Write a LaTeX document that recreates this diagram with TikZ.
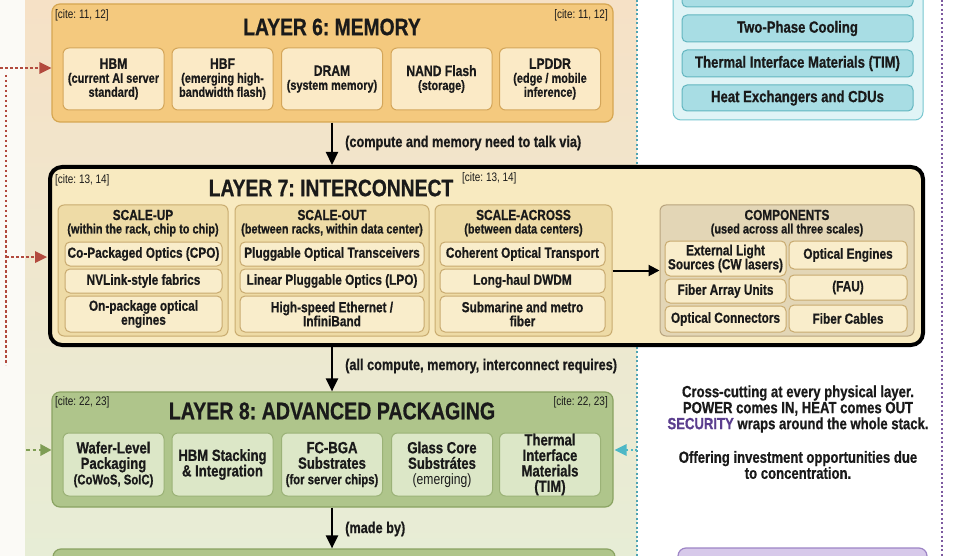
\documentclass[tikz,border=0pt]{standalone}
\usepackage{fontspec}
\setmainfont{Liberation Sans}[FakeStretch=0.81, BoldFeatures={FakeBold=0.7}]
\usetikzlibrary{arrows.meta}
\definecolor{ink}{HTML}{1A1A1A}
\definecolor{bgtop}{HTML}{F6E1C6}
\definecolor{bgmid}{HTML}{FAF2DA}
\definecolor{bgbot}{HTML}{E7EDD6}
\definecolor{strip}{HTML}{FBFAF6}
\definecolor{l6f}{HTML}{F4C97E}
\definecolor{l6b}{HTML}{D6A651}
\definecolor{memf}{HTML}{FBEAC6}
\definecolor{memb}{HTML}{D4A65A}
\definecolor{l7f}{HTML}{F8EAC0}
\definecolor{grpf}{HTML}{EEDBA6}
\definecolor{grpb}{HTML}{C9AC70}
\definecolor{itf}{HTML}{F9EDCB}
\definecolor{itb}{HTML}{C8AA6F}
\definecolor{compf}{HTML}{E3D6B6}
\definecolor{compb}{HTML}{B8A47E}
\definecolor{l8f}{HTML}{AFC58B}
\definecolor{l8b}{HTML}{8AA362}
\definecolor{l8it}{HTML}{DCE7C7}
\definecolor{l8itb}{HTML}{9BB277}
\definecolor{cyf}{HTML}{E0F4F6}
\definecolor{cyb}{HTML}{76C6CF}
\definecolor{cyit}{HTML}{A8DDE4}
\definecolor{cyitb}{HTML}{62B6C0}
\definecolor{purf}{HTML}{D7C9EA}
\definecolor{purb}{HTML}{9E85C6}
\definecolor{reddot}{HTML}{B24A3E}
\definecolor{greendash}{HTML}{7F9D55}
\definecolor{cyandot}{HTML}{4FA3B3}
\definecolor{cyanarr}{HTML}{4DB8C6}
\definecolor{purdot}{HTML}{7D5AA0}
\definecolor{secur}{HTML}{5B3E8E}
\newcommand{\fsz}[2]{\fontsize{#1}{#2}\selectfont}
\begin{document}
\frenchspacing
\begin{tikzpicture}[x=1pt,y=-1pt,
  layerbox/.style={line width=1.2pt, rounded corners=8pt, inner sep=0pt},
  membox/.style={draw=memb, fill=memf, line width=1pt, rounded corners=6pt,
    minimum width=101pt, minimum height=62pt, align=center, inner sep=0pt,
    font=\fsz{13.5}{14}\bfseries, text=ink},
  pkgbox/.style={draw=l8itb, fill=l8it, line width=1pt, rounded corners=6pt,
    minimum width=101pt, minimum height=63pt, align=center, inner sep=0pt,
    font=\fsz{16.2}{15.5}\bfseries, text=ink},
  ltitle/.style={font=\fsz{23.8}{25}\bfseries, text=ink, inner sep=0pt},
  citetxt/.style={font=\fsz{12.3}{13}, text=ink, inner sep=0pt},
  grpbox/.style={draw=grpb, fill=grpf, line width=1pt, rounded corners=6pt, inner sep=0pt},
  compbox/.style={draw=compb, fill=compf, line width=1pt, rounded corners=6pt, inner sep=0pt},
  itembox/.style={draw=itb, fill=itf, line width=1pt, rounded corners=5pt, inner sep=0pt,
    align=center, font=\fsz{14.6}{14}\bfseries, text=ink},
  hdr/.style={font=\fsz{14.6}{14}\bfseries, text=ink, inner sep=0pt},
  subhdr/.style={font=\fsz{13.5}{14}\bfseries, text=ink, inner sep=0pt},
  cyitem/.style={draw=cyitb, fill=cyit, line width=1pt, rounded corners=5pt, inner sep=0pt,
    minimum width=231pt, align=center, font=\fsz{16.2}{16}\bfseries, text=ink},
  flowlab/.style={font=\fsz{15.7}{16}\bfseries, text=ink, anchor=west, inner sep=0pt},
  sidetxt/.style={font=\fsz{16.2}{16}\bfseries, text=ink, align=center, inner sep=0pt},
  flowarr/.style={draw=black, line width=2.2pt, -{Triangle[length=13pt,width=12pt]}},
  redline/.style={draw=reddot, line width=2pt, dash pattern=on 2.5pt off 2.5pt},
]
\useasboundingbox (0,0) rectangle (974,556);
\clip (0,0) rectangle (974,556);

% backgrounds
\fill[white] (0,0) rectangle (974,556);
\fill[strip] (0,0) rectangle (25,556);
\shade[top color=bgtop, middle color=bgmid, bottom color=bgbot] (25,0) rectangle (637,556);

% dotted guide lines
\draw[cyandot, line width=2pt, dash pattern=on 2pt off 2.5pt] (637,0) -- (637,556);
\draw[purdot, line width=2pt, dash pattern=on 2pt off 2.5pt] (942,0) -- (942,556);

% ===== Right top: cyan panel =====
\node[draw=cyb, fill=cyf, line width=1pt, rounded corners=8pt, inner sep=0pt,
      minimum width=250pt, minimum height=150pt] (cypanel) at (798,45) {};
\node[cyitem, minimum height=27pt] (cy0) at (797.5,-6.5) {};
\node[cyitem, minimum height=27pt] (cy1) at (797.5,28.5) {Two-Phase Cooling};
\node[cyitem, minimum height=27pt] (cy2) at (797.5,63.5) {Thermal Interface Materials (TIM)};
\node[cyitem, minimum height=26pt] (cy3) at (797.5,98) {Heat Exchangers and CDUs};

% ===== Layer 6 =====
\node[layerbox, draw=l6b, fill=l6f, minimum width=561pt, minimum height=118pt] (l6) at (332.5,63) {};
\node[ltitle] (l6t) at (332,27) {LAYER 6: MEMORY};
\node[citetxt, anchor=west] (l6c1) at (55,15) {[cite: 11, 12]};
\node[citetxt, anchor=east] (l6c2) at (608,15) {[cite: 11, 12]};
\node[membox] (hbm) at (113.5,79) {{\fsz{15}{15}HBM}\\(current AI server\\standard)};
\node[membox] (hbf) at (222.5,79) {{\fsz{15}{15}HBF}\\(emerging high-\\bandwidth flash)};
\node[membox] (dram) at (332,79) {{\fsz{15}{15}DRAM}\\(system memory)};
\node[membox] (nand) at (441.5,79) {{\fsz{15}{15}NAND Flash}\\(storage)};
\node[membox] (lpddr) at (550,79) {{\fsz{15}{15}LPDDR}\\(edge / mobile\\inference)};

% ===== Layer 7 =====
\node[draw=black, fill=l7f, line width=4pt, rounded corners=12pt, inner sep=0pt,
      minimum width=873pt, minimum height=178pt] (l7) at (486.5,256) {};
\node[ltitle] (l7t) at (331,188) {LAYER 7: INTERCONNECT};
\node[citetxt, anchor=west] (l7c1) at (55,180) {[cite: 13, 14]};
\node[citetxt, anchor=west] (l7c2) at (462,178) {[cite: 13, 14]};

\node[grpbox, minimum width=170pt, minimum height=131pt] (sup) at (143,270.5) {};
\node[hdr] (suph) at (143,215) {SCALE-UP};
\node[subhdr] (sups) at (143,230) {(within the rack, chip to chip)};
\node[itembox, minimum width=157pt, minimum height=24pt] (cpo) at (143.5,254) {Co-Packaged Optics (CPO)};
\node[itembox, minimum width=157pt, minimum height=24pt] (nvl) at (143.5,281) {NVLink-style fabrics};
\node[itembox, minimum width=157pt, minimum height=36pt] (ope) at (143.5,314) {On-package optical\\engines};

\node[grpbox, minimum width=194pt, minimum height=131pt] (sout) at (332,270.5) {};
\node[hdr] (south) at (332,215) {SCALE-OUT};
\node[subhdr] (souts) at (332,230) {(between racks, within data center)};
\node[itembox, minimum width=184pt, minimum height=24pt] (pot) at (332,254) {Pluggable Optical Transceivers};
\node[itembox, minimum width=184pt, minimum height=24pt] (lpo) at (332,281) {Linear Pluggable Optics (LPO)};
\node[itembox, minimum width=184pt, minimum height=36pt] (eth) at (332,314) {High-speed Ethernet /\\InfiniBand};

\node[grpbox, minimum width=177pt, minimum height=131pt] (sacr) at (523.5,270.5) {};
\node[hdr] (sacrh) at (523.5,215) {SCALE-ACROSS};
\node[subhdr] (sacrs) at (523.5,230) {(between data centers)};
\node[itembox, minimum width=165pt, minimum height=24pt] (cot) at (522.5,254) {Coherent Optical Transport};
\node[itembox, minimum width=165pt, minimum height=24pt] (dwdm) at (522.5,281) {Long-haul DWDM};
\node[itembox, minimum width=165pt, minimum height=36pt] (sub) at (522.5,314) {Submarine and metro\\fiber};

\node[compbox, minimum width=254pt, minimum height=131pt] (comp) at (787,270.5) {};
\node[hdr] (comph) at (787,215) {COMPONENTS};
\node[subhdr] (comps) at (787,230) {(used across all three scales)};
\node[itembox, minimum width=121pt, minimum height=35pt] (els) at (725.5,258.5) {External Light\\Sources (CW lasers)};
\node[itembox, minimum width=118pt, minimum height=28pt] (oeng) at (848,255) {Optical Engines};
\node[itembox, minimum width=121pt, minimum height=24pt] (fau1) at (725.5,291) {Fiber Array Units};
\node[itembox, minimum width=118pt, minimum height=25pt] (fau2) at (848,287.5) {(FAU)};
\node[itembox, minimum width=121pt, minimum height=26pt] (ocon) at (725.5,319) {Optical Connectors};
\node[itembox, minimum width=118pt, minimum height=27pt] (fcab) at (848,318.5) {Fiber Cables};

\draw[draw=black, line width=2pt, -{Triangle[length=11pt,width=11pt]}] (sacr.east) -- (comp.west);

% ===== Layer 8 =====
\node[layerbox, draw=l8b, fill=l8f, minimum width=561pt, minimum height=115pt] (l8) at (332.5,449.5) {};
\node[ltitle, font=\fsz{24.2}{25}\bfseries] (l8t) at (332,411) {LAYER 8: ADVANCED PACKAGING};
\node[citetxt, anchor=west] (l8c1) at (55,402) {[cite: 22, 23]};
\node[citetxt, anchor=east] (l8c2) at (608,402) {[cite: 22, 23]};
\node[pkgbox] (wlp) at (113.5,464.5) {Wafer-Level\\Packaging\\{\fsz{14}{15}(CoWoS, SoIC)}};
\node[pkgbox] (hbms) at (222.5,464.5) {HBM Stacking\\\& Integration};
\node[pkgbox] (fcbga) at (332,464.5) {FC-BGA\\Substrates\\{\fsz{14}{15}(for server chips)}};
\node[pkgbox] (glass) at (442,464.5) {Glass Core\\Substrátes\\{\fsz{15}{15}\mdseries (emerging)}};
\node[pkgbox] (tim) at (550,464.5) {Thermal\\Interface\\Materials\\(TIM)};

% ===== bottom partial boxes =====
\node[layerbox, draw=l8b, fill=l8f, minimum width=562pt, minimum height=71pt] (l9) at (334,584.5) {};
\node[layerbox, draw=purb, fill=purf, minimum width=249pt, minimum height=72pt] (p9) at (802.5,584) {};

% ===== flow arrows =====
\draw[flowarr] (l6.south -| l6t.south) -- (l6t.south |- l7.north);
\node[flowlab] (lab1) at (345,143) {(compute and memory need to talk via)};
\draw[flowarr] (l6t.south |- l7.south) -- (l6t.south |- l8.north);
\node[flowlab] (lab2) at (345,366) {(all compute, memory, interconnect requires)};
\draw[flowarr] (l6t.south |- l8.south) -- (l6t.south |- l9.north);
\node[flowlab] (lab3) at (345,529) {(made by)};

% ===== side connectors =====
\coordinate (redA) at (-5,68);
\coordinate (redTop) at (6,75);
\coordinate (redMid) at (6,257);
\coordinate (redBot) at (6,365);
\draw[redline] (redTop) -- (redBot);
\draw[redline] (redA) -- ([xshift=-10pt]l6.west |- redA);
\fill[reddot] (l6.west |- redA) -- ++(-12,-6) -- ++(0,12) -- cycle;
\draw[redline] (redMid) -- ([xshift=-10pt]l7.west |- redMid);
\fill[reddot] ([xshift=-1pt]l7.west |- redMid) -- ++(-12,-6) -- ++(0,12) -- cycle;

\coordinate (grA) at (26,450);
\draw[greendash, line width=2pt, dash pattern=on 3.5pt off 3pt] (grA) -- ([xshift=-10pt]l8.west |- grA);
\fill[greendash] (l8.west |- grA) -- ++(-11,-6) -- ++(0,12) -- cycle;

\coordinate (cyA) at (637,450);
\draw[cyanarr, line width=2pt, dash pattern=on 2pt off 2.5pt] (cyA) -- ([xshift=10pt]l8.east |- cyA);
\fill[cyanarr] ([xshift=1pt]l8.east |- cyA) -- ++(12,-6) -- ++(0,12) -- cycle;

% ===== side text =====
\node[sidetxt] (side1) at (798,409) {Cross-cutting at every physical layer.\\POWER comes IN, HEAT comes OUT\\{\color{secur}SECURITY} wraps around the whole stack.};
\node[sidetxt] (side2) at (798,465) {Offering investment opportunities due\\to concentration.};
\end{tikzpicture}
\end{document}
